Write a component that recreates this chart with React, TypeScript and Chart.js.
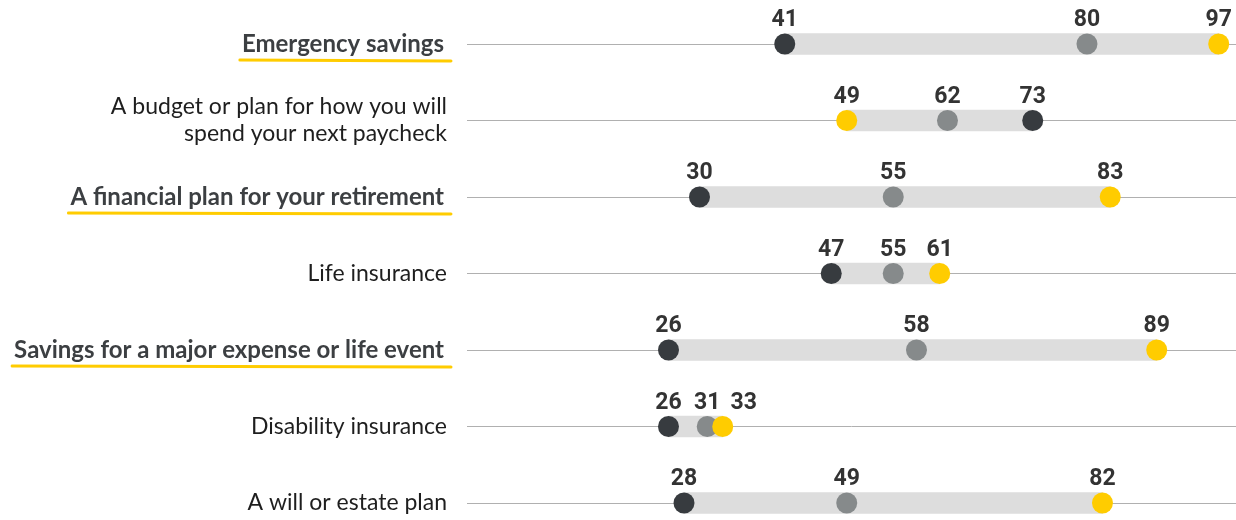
import React, { useEffect, useRef } from "react";
import { Chart, registerables } from "chart.js";

Chart.register(...registerables);

const categories: (string | string[])[] = [
  "Emergency savings",
  ["A budget or plan for how you will", "spend your next paycheck"],
  "A financial plan for your retirement",
  "Life insurance",
  "Savings for a major expense or life event",
  "Disability insurance",
  "A will or estate plan",
];
const highlighted = [true, false, true, false, true, false, false];
const darkValues = [41, 73, 30, 47, 26, 26, 28];
const greyValues = [80, 62, 55, 55, 58, 31, 49];
const yellowValues = [97, 49, 83, 61, 89, 33, 82];

const DARK = "#373b3f";
const GREY = "#868a8b";
const YELLOW = "#ffcc00";
const LABEL_FONT = "Lato";
const NUM_FONT = "Roboto";

export default function App() {
  const ref = useRef<HTMLCanvasElement | null>(null);
  useEffect(() => {
    document.body.style.margin = "0";
    const canvas = ref.current!;
    const ranges = categories.map((_, i) => {
      const vals = [darkValues[i], greyValues[i], yellowValues[i]];
      return [Math.min(...vals), Math.max(...vals)];
    });

    const valueLabels = {
      id: "valueLabels",
      afterDatasetsDraw(chart: any) {
        const ctx = chart.ctx;
        ctx.save();
        ctx.font = `bold 23px ${NUM_FONT}`;
        ctx.fillStyle = "#333333";
        ctx.textAlign = "center";
        ctx.textBaseline = "alphabetic";
        const rows: any[][] = categories.map(() => []);
        chart.data.datasets.forEach((ds: any, di: number) => {
          if (ds.type !== "line") return;
          const meta = chart.getDatasetMeta(di);
          meta.data.forEach((el: any, i: number) => {
            const text = String(ds.data[i]);
            rows[i].push({ text, x: el.x, y: el.y, w: ctx.measureText(text).width });
          });
        });
        rows.forEach((items) => {
          items.sort((a, b) => a.x - b.x);
          let prevRight = -Infinity;
          items.forEach((it) => {
            let cx = it.x;
            if (cx - it.w / 2 < prevRight + 10) cx = prevRight + 10 + it.w / 2;
            ctx.fillText(it.text, cx, it.y - 18);
            prevRight = cx + it.w / 2;
          });
        });
        ctx.restore();
      },
    };

    const yLabels = {
      id: "yLabels",
      afterDraw(chart: any) {
        const ctx = chart.ctx;
        const y = chart.scales.y;
        const right = 447;
        ctx.save();
        ctx.textAlign = "right";
        ctx.textBaseline = "middle";
        categories.forEach((c, i) => {
          const py = y.getPixelForValue(i);
          if (highlighted[i]) {
            const text = c as string;
            ctx.font = `bold 24px ${LABEL_FONT}`;
            ctx.fillStyle = "#3c3f42";
            const tr = right - 3;
            ctx.fillText(text, tr, py);
            const w = ctx.measureText(text).width;
            ctx.strokeStyle = YELLOW;
            ctx.lineWidth = 3;
            ctx.lineCap = "round";
            ctx.beginPath();
            ctx.moveTo(tr - w - 2, py + 16);
            ctx.lineTo(right + 4, py + 17);
            ctx.stroke();
          } else {
            ctx.font = `23px ${LABEL_FONT}`;
            ctx.fillStyle = "#1e1e1e";
            const lines = Array.isArray(c) ? c : [c];
            const lh = 27;
            const start = py - ((lines.length - 1) * lh) / 2;
            lines.forEach((ln, k) => ctx.fillText(ln, right, start + k * lh));
          }
        });
        ctx.restore();
      },
    };

    const pointDs = (label: string, data: number[], color: string, order: number) => ({
      type: "line" as const,
      label,
      data,
      indexAxis: "y" as const,
      showLine: false,
      pointRadius: 10.5,
      pointHoverRadius: 10.5,
      pointBackgroundColor: color,
      pointBorderColor: color,
      pointBorderWidth: 0,
      clip: false as any,
      order,
    });

    const chart = new Chart(canvas, {
      type: "bar",
      data: {
        labels: categories as any,
        datasets: [
          {
            type: "bar",
            label: "range",
            data: ranges as any,
            backgroundColor: "#dddddd",
            barThickness: 21,
            borderSkipped: false,
            clip: false as any,
            order: 3,
          },
          pointDs("dark", darkValues, DARK, 2) as any,
          pointDs("grey", greyValues, GREY, 1) as any,
          pointDs("yellow", yellowValues, YELLOW, 0) as any,
        ],
      },
      options: {
        indexAxis: "y",
        animation: false,
        responsive: false,
        maintainAspectRatio: false,
        layout: { autoPadding: false, padding: { top: 44, bottom: 17, left: 0, right: 0 } },
        plugins: { legend: { display: false }, tooltip: { enabled: false } },
        scales: {
          x: {
            type: "linear",
            min: 0,
            max: 99.23,
            display: false,
          },
          y: {
            type: "category",
            offset: false,
            border: { display: false },
            grid: {
              offset: false,
              drawTicks: false,
              color: "#b0b0b0",
              lineWidth: 1,
            },
            ticks: { display: false },
            afterFit(scale: any) {
              scale.width = 467;
            },
          },
        },
      },
      plugins: [valueLabels, yLabels],
    });
    return () => chart.destroy();
  }, []);
  return (
    <div style={{ width: 1236, height: 520 }}>
      <canvas ref={ref} width={1236} height={520} style={{ display: "block" }} />
    </div>
  );
}
